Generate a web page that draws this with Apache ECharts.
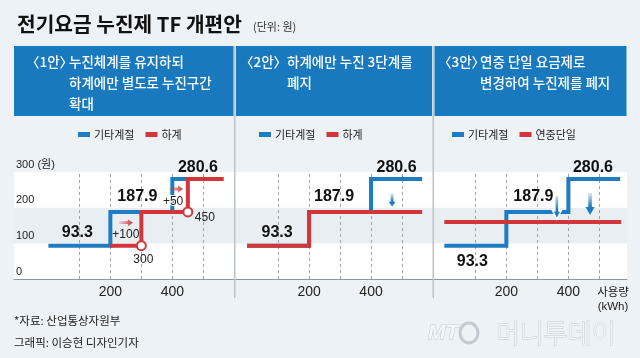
<!DOCTYPE html>
<html><head><meta charset="utf-8">
<script src="https://cdn.jsdelivr.net/npm/echarts@6/dist/echarts.min.js"></script>
<style>html,body{margin:0;padding:0;background:#edf2f6}#c{width:640px;height:358px}</style>
</head><body><div id="c"></div>
<script>
// ---------- data ----------
const tierStarts = [0, 200, 400];            // 기타계절 누진구간 시작 (kWh)
const tierPrices = [93.3, 187.9, 280.6];     // 원/kWh
const plan1SummerStarts = [0, 300, 450];     // 1안 하계 구간 시작
const plan1SummerDrawFrom = 200;
const plan2SummerStarts = [0, 200];          // 2안 하계
const plan2SummerPrices = [93.3, 187.9];
const plan3FlatPrice = 160;                  // 3안 연중단일 (그림에서 추정)
const usageEnd = 565;
const flatEnd = 570;
const plan1Shifts = ['+100', '+50'];
const plan1NewBounds = [300, 450];
const plan1OldBounds = [200, 400];
const gridLineValues = [100, 200, 300, 400, 500];
const xTickLabels = [200, 400];
const yTickValues = [0, 100, 200, 300];

// ---------- style ----------
const BLUE = '#1f7cc0', RED = '#d2363a', HEAD = '#1879bf';
const NUM = "'Liberation Sans',Arial,'Noto Sans CJK KR',sans-serif";
const KR = "'Noto Sans CJK KR',sans-serif";

function steps(starts, prices, from, to) {
  const pts = [];
  for (let i = 0; i < starts.length; i++) {
    const x1 = i + 1 < starts.length ? starts[i + 1] : to;
    if (x1 <= from) continue;
    const x0 = Math.max(starts[i], from);
    pts.push([x0, prices[i]], [x1, prices[i]]);
  }
  return pts;
}
const mids = tierStarts.map((s, i) => (s + (i + 1 < tierStarts.length ? tierStarts[i + 1] : usageEnd)) / 2);

const RIGHT_ARROW = 'path://M0,3 L9,3 L9,0 L14,5 L9,10 L9,7 L0,7 Z';
const DOWN_ARROW = 'path://M3,0 L7,0 L7,9 L10,9 L5,14 L0,9 L3,9 Z';
const redGrad = new echarts.graphic.LinearGradient(0, 0, 1, 0, [{offset: 0, color: 'rgba(210,54,58,0.15)'}, {offset: 1, color: RED}]);
const blueGrad = () => new echarts.graphic.LinearGradient(0, 0, 0, 1, [{offset: 0, color: 'rgba(31,124,192,0.15)'}, {offset: 0.6, color: BLUE}, {offset: 1, color: BLUE}]);

const valLabelStyle = {show: true, position: 'inside', fontFamily: NUM, fontWeight: 'bold', fontSize: 16, color: '#111'};
const smallLabel = {show: true, position: 'inside', fontFamily: NUM, fontSize: 12, color: '#222'};

function tierLabels(offsets) {
  return tierPrices.map((p, i) => ({
    coord: [mids[i], p], value: String(p), symbol: 'circle', symbolSize: 0,
    label: Object.assign({}, valLabelStyle, {offset: offsets[i]})
  }));
}
const dashLines = {
  silent: true, z: 1, symbol: ['none', 'none'], label: {show: false},
  lineStyle: {type: [3, 3], color: '#9ea4a9', width: 1},
  data: gridLineValues.map(v => ({xAxis: v}))
};
function lineSeries(name, color, data, gi, z, extra) {
  return Object.assign({
    name, type: 'line', xAxisIndex: gi, yAxisIndex: gi, data, color,
    showSymbol: false, symbol: 'none', z, animation: false, silent: true,
    itemStyle: {color}, lineStyle: {color, width: 4, join: 'miter'}
  }, extra || {});
}

const grids = [
  {left: 14, top: 172, width: 220, height: 107},
  {left: 235, top: 172, width: 198, height: 107},
  {left: 433, top: 172, width: 194, height: 107}
];
const xr = [[-111, 599], [-39, 600], [-36.5, 589]];
const xAxis = xr.map((r, i) => ({
  type: 'value', gridIndex: i, min: r[0], max: r[1],
  axisLine: {show: true, lineStyle: {color: '#8f969c', width: 1}},
  axisTick: {show: false}, splitLine: {show: false},
  axisLabel: {customValues: xTickLabels, fontFamily: NUM, fontSize: 14, color: '#222', margin: 6}
}));
const yAxis = grids.map((g, i) => ({
  type: 'value', gridIndex: i, min: 0, max: 300, interval: 100,
  axisLine: {show: false}, axisTick: {show: false}, splitLine: {show: false},
  splitArea: {show: true, areaStyle: {color: ['#ffffff', '#e8eef2']}},
  axisLabel: i === 0 ? {
    show: true, inside: true, margin: 2, align: 'left', verticalAlign: 'bottom', padding: [0, 0, 2, 0],
    fontFamily: NUM, fontSize: 11, color: '#222',
    formatter: v => v === 300 ? '300 (원)' : String(v)
  } : {show: false}
}));

// panel 1
const p1Blue = lineSeries('기타계절', BLUE, steps(tierStarts, tierPrices, 0, usageEnd), 0, 2, {
  markLine: dashLines,
  markPoint: {z: 6, silent: true, data: tierLabels([[-2, -13], [-4, -15], [0, -11]])}
});
const p1Red = lineSeries('하계', RED, steps(plan1SummerStarts, tierPrices, plan1SummerDrawFrom, usageEnd), 0, 3, {
  markPoint: {z: 5, silent: true, data: [
    {coord: [(plan1OldBounds[0] + plan1NewBounds[0]) / 2, tierPrices[0]], symbol: RIGHT_ARROW, symbolSize: [14, 7], symbolKeepAspect: false, symbolOffset: [0, -23], itemStyle: {color: redGrad}, label: {show: false}},
    {coord: [(plan1OldBounds[0] + plan1NewBounds[0]) / 2, tierPrices[0]], value: plan1Shifts[0], symbol: 'circle', symbolSize: 0, label: Object.assign({}, smallLabel, {offset: [0, -11]})},
    {coord: [(plan1OldBounds[1] + plan1NewBounds[1]) / 2, tierPrices[1]], symbol: RIGHT_ARROW, symbolSize: [14, 7], symbolKeepAspect: false, symbolOffset: [-4, -23], itemStyle: {color: redGrad}, label: {show: false}},
    {coord: [(plan1OldBounds[1] + plan1NewBounds[1]) / 2, tierPrices[1]], value: plan1Shifts[1], symbol: 'circle', symbolSize: 0, label: Object.assign({}, smallLabel, {offset: [-7, -10], textBorderColor: '#fff', textBorderWidth: 2})},
    {coord: [plan1NewBounds[0], tierPrices[0]], value: String(plan1NewBounds[0]), symbol: 'circle', symbolSize: 9, itemStyle: {color: '#fff', borderColor: RED, borderWidth: 2}, label: Object.assign({}, smallLabel, {offset: [2, 14]})},
    {coord: [plan1NewBounds[1], tierPrices[1]], value: String(plan1NewBounds[1]), symbol: 'circle', symbolSize: 9, itemStyle: {color: '#fff', borderColor: RED, borderWidth: 2}, label: Object.assign({}, smallLabel, {offset: [17, 6]})}
  ]}
});
// panel 2
const p2Blue = lineSeries('기타계절', BLUE, steps(tierStarts, tierPrices, 0, usageEnd), 1, 2, {
  markLine: dashLines,
  markPoint: {z: 6, silent: true, data: tierLabels([[-1, -13], [-6, -15], [0, -11]]).concat([
    {coord: [468, tierPrices[2]], symbol: DOWN_ARROW, symbolSize: [7, 13], symbolKeepAspect: false, symbolOffset: [0, 21], itemStyle: {color: blueGrad()}, label: {show: false}}
  ])}
});
const p2Red = lineSeries('하계', RED, steps(plan2SummerStarts, plan2SummerPrices, 0, usageEnd), 1, 3);
// panel 3
const p3Blue = lineSeries('기타계절', BLUE, steps(tierStarts, tierPrices, 0, usageEnd + 2), 2, 2, {
  markLine: dashLines,
  markPoint: {z: 6, silent: true, data: tierLabels([[-3, 16], [-4, -15], [-1, -11]]).concat([
    {coord: [363, tierPrices[1]], symbol: DOWN_ARROW, symbolSize: [9, 24], symbolKeepAspect: false, symbolOffset: [0, -5], itemStyle: {color: blueGrad(), borderColor: '#fff', borderWidth: 1.5}, label: {show: false}},
    {coord: [470, tierPrices[2]], symbol: DOWN_ARROW, symbolSize: [9, 22], symbolKeepAspect: false, symbolOffset: [0, 25], itemStyle: {color: blueGrad()}, label: {show: false}}
  ])}
});
const p3Red = lineSeries('연중단일', RED, [[0, plan3FlatPrice], [flatEnd, plan3FlatPrice]], 2, 3);

const legendBase = {icon: 'rect', itemWidth: 12, itemHeight: 5, itemGap: 11, top: 124, selectedMode: false,
  textStyle: {fontFamily: KR, fontSize: 11, color: '#222', padding: [0, 0, 0, -1]}};

function txt(x, y, text, font, fill, extra) {
  return Object.assign({type: 'text', z: 20, silent: true, style: Object.assign({x, y, text, font, fill, textVerticalAlign: 'middle'}, extra || {})});
}
const headFont = '500 13.5px ' + KR;
const graphic = [
  txt(17, 24, '전기요금 누진제 TF 개편안', 'bold 20.3px ' + KR, '#111'),
  txt(253, 27, '(단위: 원)', '11px ' + KR, '#333'),
  {type: 'rect', z: 1, silent: true, shape: {x: 14, y: 46, width: 219.5, height: 70}, style: {fill: HEAD}},
  {type: 'rect', z: 1, silent: true, shape: {x: 236, y: 46, width: 196, height: 70}, style: {fill: HEAD}},
  {type: 'rect', z: 1, silent: true, shape: {x: 434.5, y: 46, width: 192, height: 70}, style: {fill: HEAD}},
  {type: 'line', z: 30, silent: true, shape: {x1: 234.75, y1: 46, x2: 234.75, y2: 298}, style: {stroke: '#bcc4cb', lineWidth: 1.5}},
  {type: 'line', z: 30, silent: true, shape: {x1: 433.25, y1: 46, x2: 433.25, y2: 298}, style: {stroke: '#bcc4cb', lineWidth: 1.5}},
  txt(26, 62, '〈1안〉', headFont, '#fff'),
  txt(69, 62, '누진체계를 유지하되', headFont, '#fff'),
  txt(69, 83, '하계에만 별도로 누진구간', headFont, '#fff'),
  txt(69, 103.5, '확대', headFont, '#fff'),
  txt(240, 62, '〈2안〉', headFont, '#fff'),
  txt(287, 62, '하계에만 누진 3단계를', headFont, '#fff'),
  txt(287, 83, '폐지', headFont, '#fff'),
  txt(438, 62, '〈3안〉', headFont, '#fff'),
  txt(480, 62, '연중 단일 요금제로', headFont, '#fff'),
  txt(480, 83, '변경하여 누진제를 폐지', headFont, '#fff'),
  txt(613, 292, '사용량', '11.5px ' + KR, '#222', {textAlign: 'center'}),
  txt(613, 307, '(kWh)', '11.5px ' + NUM, '#222', {textAlign: 'center'}),
  txt(14, 321, '*자료: 산업통상자원부', '11.5px ' + KR, '#222'),
  txt(14, 343, '그래픽: 이승현 디자인기자', '11.5px ' + KR, '#222'),
  txt(428, 333, 'MT', 'italic bold 21px ' + NUM, '#f4f7f9', {stroke: '#c3cad1', lineWidth: 1}),
  {type: 'ellipse', z: 20, silent: true, shape: {cx: 469, cy: 333, rx: 9, ry: 10}, style: {fill: 'none', stroke: '#c3cad1', lineWidth: 3}},
  txt(496, 333, '머니투데이', '300 26px ' + KR, '#f4f7f9', {stroke: '#c3cad1', lineWidth: 1})
];

const chart = echarts.init(document.getElementById('c'));
chart.setOption({
  backgroundColor: '#edf2f6',
  animation: false,
  grid: grids,
  xAxis, yAxis,
  legend: [
    Object.assign({}, legendBase, {left: 73, data: ['기타계절', '하계']}),
    Object.assign({}, legendBase, {left: 254, data: ['기타계절', '하계']}),
    Object.assign({}, legendBase, {left: 447, data: ['기타계절', '연중단일']})
  ],
  series: [p1Blue, p1Red, p2Blue, p2Red, p3Blue, p3Red],
  graphic
});
</script></body></html>
